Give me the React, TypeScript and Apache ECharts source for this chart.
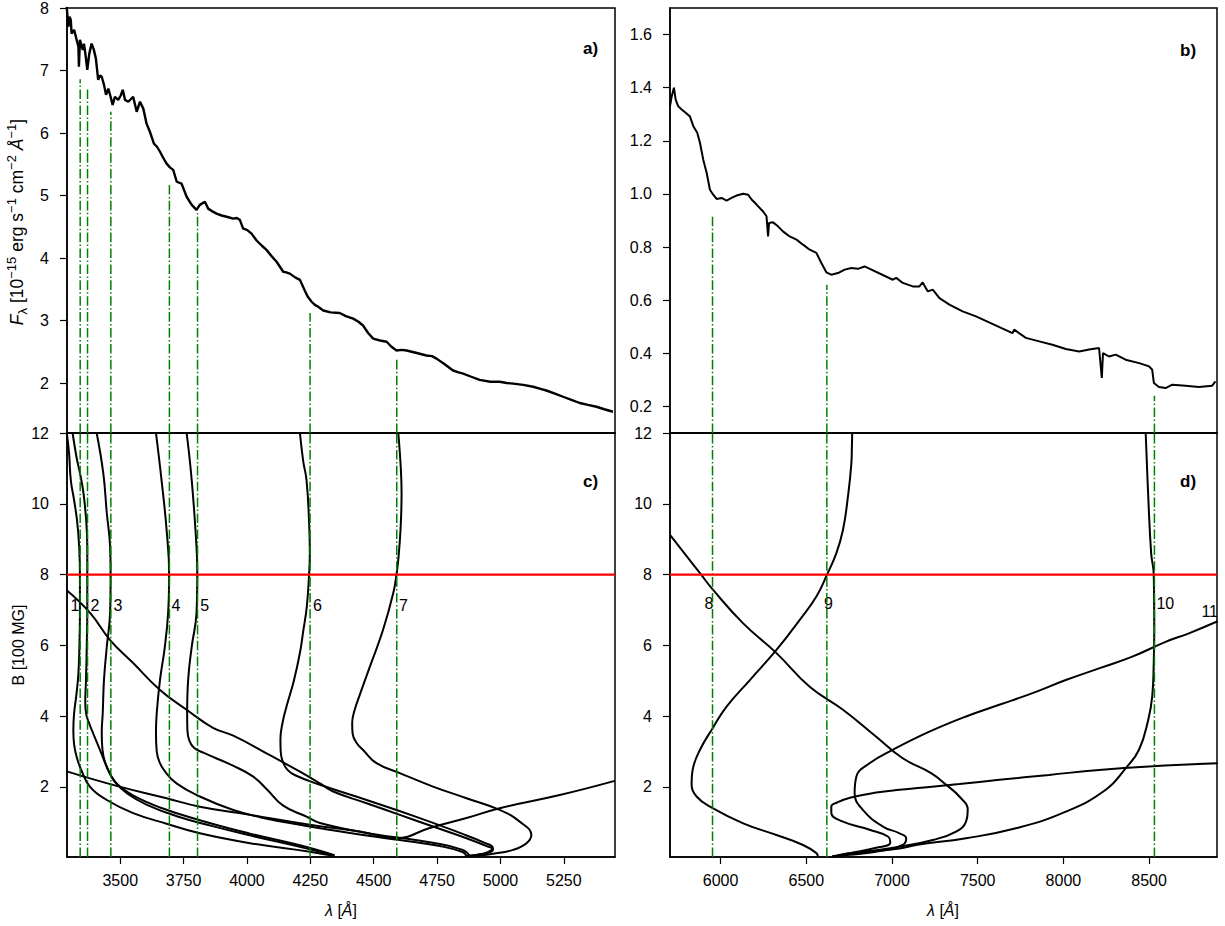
import React, { useEffect, useRef } from "react";
import * as echarts from "echarts";

// ---------- data ----------
const blueTicks = [3500, 3750, 4000, 4250, 4500, 4750, 5000, 5250];
const redTicks = [6000, 6500, 7000, 7500, 8000, 8500];
const fluxBlueTicks = [2, 3, 4, 5, 6, 7, 8];
const fluxRedTicks = [0.2, 0.4, 0.6, 0.8, 1.0, 1.2, 1.4, 1.6];
const fieldTicks = [2, 4, 6, 8, 10, 12];

const stationaryBlue = [3342, 3371, 3463, 3694, 3805, 4249, 4591];
const stationaryBlueTop = [6.86, 6.73, 6.34, 5.21, 4.72, 3.12, 2.39];
const stationaryRed = [5953, 6620, 8531];
const stationaryRedTop = [0.918, 0.658, 0.24];
const fieldValue = 8;

const blueLabelText = ["1", "2", "3", "4", "5", "6", "7"];
const blueLabelX = [3302, 3381, 3471, 3700, 3814, 4259, 4598];
const blueLabelB = [7.14, 7.14, 7.14, 7.14, 7.14, 7.14, 7.14];
const redLabelText = ["8", "9", "10", "11"];
const redLabelX = [5903, 6601, 8540, 8802];
const redLabelB = [7.17, 7.17, 7.17, 6.95];

const specBlue: number[][] = [
  [3289, 8.02], [3295, 7.7], [3300, 7.86], [3305, 7.81], [3308, 7.59], [3318, 7.65], [3325, 7.54], [3335, 7.38],
  [3337, 7.06], [3341, 7.49], [3352, 7.33], [3357, 7.43], [3364, 7.22], [3370, 7.01], [3378, 7.27],
  [3387, 7.43], [3396, 7.33], [3404, 7.19], [3413, 6.85], [3420, 6.92], [3427, 6.9], [3436, 6.77],
  [3444, 6.61], [3453, 6.71], [3462, 6.58], [3470, 6.45], [3479, 6.58], [3492, 6.53], [3502, 6.6],
  [3510, 6.69], [3519, 6.53], [3532, 6.5], [3551, 6.58], [3565, 6.34], [3578, 6.5], [3591, 6.39],
  [3604, 6.15], [3617, 6.02], [3633, 5.83], [3645, 5.78], [3657, 5.7], [3670, 5.6], [3683, 5.51],
  [3696, 5.45], [3709, 5.41], [3723, 5.22], [3742, 5.19], [3762, 4.98], [3782, 4.85], [3801, 4.77],
  [3814, 4.85], [3834, 4.9], [3847, 4.79], [3862, 4.75], [3880, 4.71], [3900, 4.68], [3920, 4.66],
  [3946, 4.63], [3960, 4.64], [3972, 4.61], [3985, 4.47], [4000, 4.45], [4018, 4.39], [4038, 4.28],
  [4058, 4.2], [4077, 4.13], [4097, 4.03], [4117, 3.94], [4130, 3.86], [4143, 3.78], [4155, 3.77],
  [4169, 3.75], [4190, 3.69], [4209, 3.65], [4228, 3.48], [4240, 3.38], [4255, 3.3], [4268, 3.25],
  [4281, 3.22], [4301, 3.16], [4330, 3.13], [4366, 3.12], [4390, 3.07], [4419, 3.03], [4440, 2.98],
  [4458, 2.92], [4478, 2.8], [4498, 2.71], [4525, 2.68], [4551, 2.66], [4570, 2.58], [4590, 2.52],
  [4610, 2.53], [4630, 2.52], [4670, 2.48], [4708, 2.44], [4730, 2.43], [4748, 2.39], [4780, 2.3],
  [4813, 2.2], [4835, 2.17], [4853, 2.15], [4885, 2.1], [4918, 2.05], [4960, 2.02], [4997, 2.02],
  [5025, 2.0], [5050, 1.99], [5090, 1.97], [5129, 1.94], [5155, 1.91], [5181, 1.88], [5215, 1.83],
  [5247, 1.78], [5280, 1.73], [5313, 1.68], [5345, 1.65], [5379, 1.62], [5410, 1.58], [5444, 1.54],
];

const specRed: number[][] = [
  [5705, 1.33], [5715, 1.368], [5728, 1.4], [5738, 1.355], [5753, 1.33], [5773, 1.318], [5798, 1.305],
  [5821, 1.292], [5841, 1.255], [5864, 1.23], [5880, 1.192], [5899, 1.129], [5919, 1.079], [5938, 1.016],
  [5957, 0.997], [5977, 0.981], [6006, 0.985], [6035, 0.975], [6064, 0.985], [6093, 0.994], [6132, 1.001],
  [6161, 0.997], [6181, 0.979], [6210, 0.96], [6248, 0.934], [6268, 0.916], [6277, 0.84], [6283, 0.891],
  [6306, 0.893], [6335, 0.878], [6364, 0.859], [6403, 0.84], [6443, 0.828], [6481, 0.809], [6520, 0.79],
  [6559, 0.778], [6588, 0.74], [6617, 0.705], [6646, 0.696], [6685, 0.702], [6724, 0.715], [6763, 0.721],
  [6801, 0.718], [6840, 0.727], [7005, 0.677], [7025, 0.684], [7063, 0.665], [7121, 0.652], [7160, 0.652],
  [7179, 0.667], [7209, 0.633], [7238, 0.64], [7277, 0.608], [7335, 0.583], [7412, 0.558], [7490, 0.539],
  [7703, 0.476], [7713, 0.489], [7781, 0.458], [7859, 0.445], [7936, 0.432], [8014, 0.416], [8092, 0.407],
  [8150, 0.414], [8208, 0.42], [8224, 0.307], [8231, 0.401], [8266, 0.388], [8305, 0.395], [8363, 0.376],
  [8442, 0.363], [8500, 0.351], [8518, 0.338], [8528, 0.288], [8557, 0.273], [8596, 0.269], [8635, 0.282],
  [8713, 0.278], [8790, 0.273], [8868, 0.278], [8887, 0.294],
];

const curve1 = [[3289, 12], [3298, 11.44], [3305, 10.67], [3318, 10.1], [3330, 9.5], [3338, 8.79], [3341, 8.0], [3341, 6.92], [3339, 6.0], [3335, 5.21], [3327, 4.6], [3318, 4.08], [3315, 3.6], [3318, 3.2], [3328, 2.85], [3345, 2.5], [3381, 2.0], [3447, 1.63], [3551, 1.26], [3683, 0.96], [3814, 0.69], [4012, 0.41], [4248, 0.17], [4345, 0.05]];
const curve2 = [[3312, 12], [3328, 11.3], [3341, 10.87], [3355, 10.3], [3366, 9.5], [3370, 8.79], [3370, 8.0], [3370, 6.92], [3368, 6.0], [3365, 5.03], [3362, 4.4], [3366, 4.05], [3380, 3.75], [3394, 3.5], [3420, 3.05], [3447, 2.57], [3479, 2.15], [3530, 1.8], [3610, 1.48], [3720, 1.18], [3860, 0.9], [4030, 0.6], [4200, 0.32], [4345, 0.06]];
const curve3 = [[3407, 12], [3433, 10.87], [3447, 9.74], [3460, 8.79], [3462, 8.0], [3460, 6.92], [3447, 5.96], [3436, 5.03], [3431, 4.09], [3427, 3.53], [3430, 3.05], [3440, 2.7], [3460, 2.36], [3487, 2.08], [3550, 1.76], [3657, 1.42], [3814, 1.06], [4012, 0.68], [4209, 0.35], [4345, 0.07]];
const curve4 = [[3641, 12], [3663, 10.67], [3683, 9.26], [3693, 8.0], [3689, 6.92], [3676, 5.96], [3657, 5.03], [3644, 4.09], [3641, 3.53], [3644, 3.0], [3655, 2.7], [3675, 2.45], [3722, 2.1], [3814, 1.73], [3946, 1.35], [4079, 1.1], [4209, 0.93], [4406, 0.7], [4603, 0.5], [4761, 0.33], [4851, 0.16], [4866, 0.05]];
const curve5 = [[3762, 12], [3782, 10.67], [3801, 8.79], [3804, 8.0], [3801, 6.92], [3782, 5.96], [3768, 5.03], [3764, 4.09], [3765, 3.6], [3773, 3.3], [3792, 3.1], [3830, 2.96], [3945, 2.6], [4025, 2.29], [4080, 1.92], [4143, 1.47], [4235, 1.16], [4288, 0.98], [4472, 0.7], [4733, 0.42], [4851, 0.22], [4879, 0.05]];
const curve6 = [[4209, 12], [4222, 11.2], [4235, 10.67], [4245, 9.5], [4248, 8.6], [4245, 8.0], [4236, 7.09], [4222, 6.4], [4209, 5.79], [4185, 5.0], [4156, 4.27], [4140, 3.8], [4132, 3.35], [4133, 3.0], [4142, 2.7], [4160, 2.48], [4190, 2.33], [4288, 2.06], [4472, 1.63], [4682, 1.12], [4840, 0.7], [4938, 0.42], [4970, 0.28], [4950, 0.16], [4907, 0.08], [4867, 0.04]];
const curve7 = [[4597, 12], [4607, 11], [4610, 10.3], [4606, 9.3], [4598, 8.5], [4590, 8.0], [4577, 7.47], [4537, 6.44], [4485, 5.4], [4445, 4.6], [4424, 4.15], [4415, 3.8], [4417, 3.5], [4432, 3.25], [4460, 3.03], [4511, 2.67], [4603, 2.39], [4734, 2.01], [4866, 1.68], [4997, 1.35], [5076, 1.02], [5122, 0.64], [5103, 0.41], [5050, 0.22], [4971, 0.11], [4905, 0.05]];
const curveL = [[3289, 7.56], [3381, 6.92], [3460, 6.15], [3551, 5.5], [3657, 4.74], [3762, 4.18], [3866, 3.67], [3946, 3.45], [4077, 2.95], [4209, 2.43], [4288, 2.1], [4340, 1.87], [4472, 1.54], [4603, 1.21], [4734, 0.88], [4866, 0.55], [4945, 0.33], [4971, 0.24], [4958, 0.15], [4918, 0.09], [4866, 0.05]];
const curveV = [[3289, 2.44], [3486, 2.03], [3683, 1.68], [3814, 1.44], [4012, 1.21], [4248, 0.93], [4445, 0.74], [4590, 0.55], [4721, 0.84], [4866, 1.12], [4997, 1.4], [5234, 1.77], [5451, 2.17]];

const curveD1 = [[5705, 9.12], [5880, 8.04], [5954, 7.58], [6132, 6.62], [6326, 5.78], [6520, 4.83], [6714, 4.18], [6908, 3.42], [7063, 2.81], [7228, 2.39], [7316, 2.06], [7393, 1.73], [7442, 1.35], [7432, 1.02], [7374, 0.74], [7238, 0.5], [7044, 0.31], [6869, 0.19], [6695, 0.08], [6654, 0.03]];
const curveD2 = [[6768, 12], [6766, 11.6], [6763, 11.14], [6743, 10.2], [6714, 9.26], [6675, 8.6], [6621, 8.0], [6559, 7.38], [6462, 6.72], [6326, 5.87], [6171, 5.02], [6035, 4.27], [5954, 3.66], [5880, 3.05], [5837, 2.48], [5831, 2.1], [5860, 1.73], [5954, 1.4], [6132, 0.97], [6326, 0.64], [6481, 0.36], [6559, 0.13], [6568, 0.03]];
const curveD3 = [[8900, 6.68], [8732, 6.34], [8596, 6.1], [8402, 5.68], [8208, 5.35], [8014, 5.02], [7820, 4.65], [7626, 4.32], [7432, 3.99], [7218, 3.56], [7005, 3.05], [6869, 2.67], [6792, 2.29], [6782, 1.82], [6830, 1.35], [6947, 0.88], [7044, 0.69], [7083, 0.55], [7063, 0.36], [6947, 0.2], [6753, 0.08], [6652, 0.05]];
const curveD4 = [[8480, 12], [8495, 10.2], [8512, 8.6], [8527, 8.0], [8530, 6.44], [8527, 5.5], [8518, 4.55], [8495, 3.9], [8441, 3.05], [8364, 2.53], [8247, 1.92], [8014, 1.3], [7723, 0.83], [7432, 0.55], [7141, 0.36], [7044, 0.26], [6811, 0.14], [6654, 0.03]];
const curveD5 = [[8900, 2.67], [8499, 2.58], [8208, 2.48], [7917, 2.34], [7626, 2.2], [7393, 2.08], [7218, 2.0], [7044, 1.92], [6908, 1.84], [6760, 1.7], [6680, 1.56], [6646, 1.45], [6646, 1.26], [6714, 1.02], [6869, 0.79], [6976, 0.6], [6990, 0.42], [6908, 0.28], [6753, 0.13], [6652, 0.03]];

const blueCurves = [curve1, curve2, curve3, curve4, curve5, curve6, curve7, curveL, curveV];
const redCurves = [curveD1, curveD2, curveD3, curveD4, curveD5];

// ---------- chart ----------
const FONT = "Liberation Sans, Arial, sans-serif";
const BLUE_MIN = 3290, BLUE_MAX = 5452, RED_MIN = 5705, RED_MAX = 8896;
const B_MIN = 0.02, B_MAX = 12;

function valueAxis(gridIndex: number, min: number, max: number, ticks: number[], show: boolean, margin: number, fmt: (v: number) => string) {
  return {
    type: "value",
    gridIndex,
    min,
    max,
    axisLine: { show: true, onZero: false, lineStyle: { color: "#000", width: 1.5 } },
    axisTick: { show, customValues: ticks, length: 7, lineStyle: { color: "#000", width: 1.2 } },
    axisLabel: {
      show,
      customValues: ticks,
      fontSize: 16,
      color: "#000",
      fontFamily: FONT,
      margin,
      formatter: fmt,
    },
    splitLine: { show: false },
  };
}

function lineSeries(data: number[][], xi: number, color: string, width: number, dash?: number[] | string, smooth: number | boolean = false) {
  return {
    type: "line",
    xAxisIndex: xi,
    yAxisIndex: xi,
    data,
    showSymbol: false,
    symbol: "none",
    smooth,
    silent: true,
    clip: true,
    lineStyle: { color, width, type: dash || "solid" },
  };
}

export default function App() {
  const ref = useRef<HTMLDivElement>(null);
  useEffect(() => {
    if (!ref.current) return;
    const chart = echarts.init(ref.current, null, { renderer: "svg" });
    const GREEN = "#008000";
    const DASHDOT = [9.6, 2.4, 1.5, 2.4];
    const series: any[] = [];

    series.push(lineSeries(specBlue, 0, "#000", 2.4));
    series.push(lineSeries(specRed, 1, "#000", 2));
    blueCurves.forEach((c) => series.push(lineSeries(c, 2, "#000", 2, undefined, 0.45)));
    redCurves.forEach((c) => series.push(lineSeries(c, 3, "#000", 2, undefined, 0.45)));

    stationaryBlue.forEach((x, i) => {
      series.push(lineSeries([[x, 1.2], [x, stationaryBlueTop[i]]], 0, GREEN, 1.5, DASHDOT));
      series.push(lineSeries([[x, B_MIN], [x, B_MAX]], 2, GREEN, 1.5, DASHDOT));
    });
    stationaryRed.forEach((x, i) => {
      series.push(lineSeries([[x, 0.1], [x, stationaryRedTop[i]]], 1, GREEN, 1.5, DASHDOT));
      series.push(lineSeries([[x, B_MIN], [x, B_MAX]], 3, GREEN, 1.5, DASHDOT));
    });
    series.push(lineSeries([[BLUE_MIN, fieldValue], [BLUE_MAX, fieldValue]], 2, "#ff0000", 2.2));
    series.push(lineSeries([[RED_MIN, fieldValue], [RED_MAX, fieldValue]], 3, "#ff0000", 2.2));

    const labelSeries = (xs: number[], bs: number[], texts: string[], idx: number) => ({
      type: "scatter",
      xAxisIndex: idx,
      yAxisIndex: idx,
      symbol: "circle",
      symbolSize: 1,
      silent: true,
      itemStyle: { color: "#fff", opacity: 0 },
      data: xs.map((x, i) => ({ value: [x, bs[i]], label: { formatter: texts[i] } })),
      label: { show: true, position: "right", distance: 0, fontSize: 16, color: "#000", opacity: 1, fontFamily: FONT },
    });
    series.push(labelSeries(blueLabelX, blueLabelB, blueLabelText, 2));
    series.push(labelSeries(redLabelX, redLabelB, redLabelText, 3));

    const plain = (v: number) => String(v);
    const oneDec = (v: number) => v.toFixed(1);
    const gridBase = { show: true, borderColor: "#000", borderWidth: 1.5, backgroundColor: "transparent", containLabel: false };
    const option: any = {
      animation: false,
      backgroundColor: "#fff",
      grid: [
        { ...gridBase, left: 67, top: 8, width: 548, height: 425 },
        { ...gridBase, left: 670, top: 8, width: 547, height: 425 },
        { ...gridBase, left: 67, top: 433, width: 548, height: 424 },
        { ...gridBase, left: 670, top: 433, width: 547, height: 424 },
      ],
      xAxis: [
        valueAxis(0, BLUE_MIN, BLUE_MAX, [], false, 15, plain),
        valueAxis(1, RED_MIN, RED_MAX, [], false, 15, plain),
        valueAxis(2, BLUE_MIN, BLUE_MAX, blueTicks, true, 15, plain),
        valueAxis(3, RED_MIN, RED_MAX, redTicks, true, 15, plain),
      ],
      yAxis: [
        valueAxis(0, 1.2, 8, fluxBlueTicks, true, 18, plain),
        valueAxis(1, 0.1, 1.7, fluxRedTicks, true, 18, oneDec),
        valueAxis(2, B_MIN, B_MAX, fieldTicks, true, 18, plain),
        valueAxis(3, B_MIN, B_MAX, fieldTicks, true, 18, plain),
      ],
      series,
      graphic: [
        ...[["a)", 583, 48], ["b)", 1180, 50], ["c)", 583, 481], ["d)", 1180, 481]].map(([t, x, y]) => ({
          type: "text",
          x, y,
          style: { text: t, fontSize: 17, fontWeight: "bold", fontFamily: FONT, fill: "#000", align: "left", verticalAlign: "middle" },
        })),
        {
          type: "text",
          x: 17, y: 222, rotation: Math.PI / 2,
          style: {
            text: "{i|F}{sub|λ} [10{sup|−15} erg s{sup|−1} cm{sup|−2} {i|Å}{sup|−1}]",
            fontSize: 17.5, fontFamily: FONT, fill: "#000", align: "center", verticalAlign: "middle", lineHeight: 24,
            rich: {
              i: { fontStyle: "italic", fontSize: 17.5, fontFamily: FONT, lineHeight: 24 },
              sup: { fontSize: 13, fontFamily: FONT, verticalAlign: "top", lineHeight: 13 },
              sub: { fontSize: 13, fontFamily: FONT, verticalAlign: "bottom", lineHeight: 14 },
            },
          },
        },
        {
          type: "text",
          x: 18, y: 645, rotation: Math.PI / 2,
          style: { text: "B [100 MG]", fontSize: 16, fontFamily: FONT, fill: "#000", align: "center", verticalAlign: "middle" },
        },
        ...[341, 943].map((x) => ({
          type: "text",
          x, y: 910,
          style: {
            text: "{i|λ} [{i|Å}]",
            fontSize: 16, fontFamily: FONT, fill: "#000", align: "center", verticalAlign: "middle",
            rich: { i: { fontStyle: "italic", fontSize: 16, fontFamily: FONT } },
          },
        })),
      ],
    };
    chart.setOption(option);
    return () => chart.dispose();
  }, []);
  return <div ref={ref} style={{ position: "absolute", left: 0, top: 0, width: 1225, height: 926 }} />;
}
